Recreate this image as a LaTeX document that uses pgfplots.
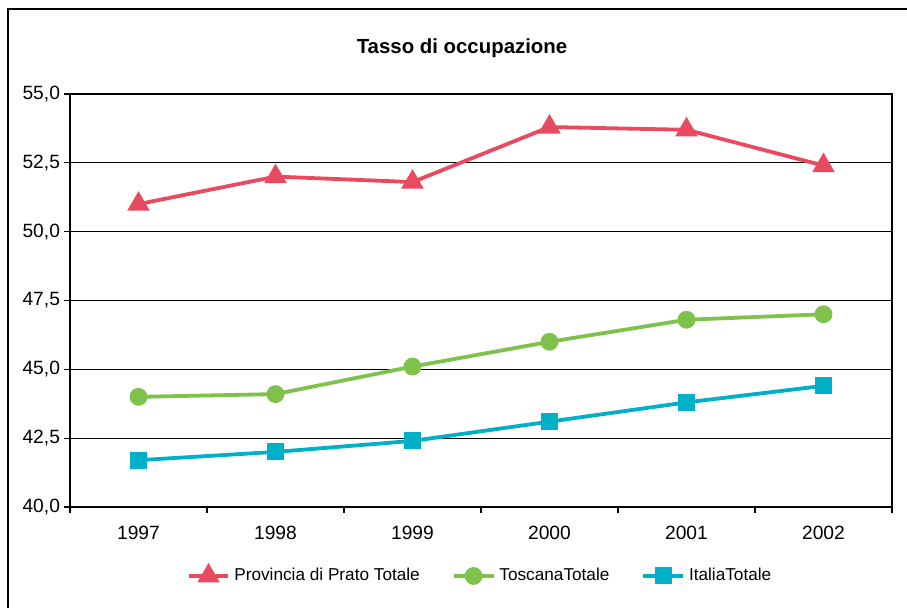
\documentclass[border=0pt]{standalone}
\usepackage{fontspec}
\setmainfont{Liberation Sans}
\usepackage{pgfplots}
\pgfplotsset{compat=1.18}
\definecolor{cred}{RGB}{232,74,95}
\definecolor{cgreen}{RGB}{126,194,75}
\definecolor{cteal}{RGB}{0,175,200}
\begin{document}
\begin{tikzpicture}
\useasboundingbox (0,0) rectangle (453.5pt,304pt);
\draw[line width=0.75pt] (4pt,-5pt) -- (4pt,299.5pt) -- (460pt,299.5pt);
\node[font=\bfseries\fontsize{10.2}{12}\selectfont] at (231pt,280pt) {Tasso di occupazione};
\begin{axis}[
  at={(35pt,50.5pt)}, anchor=south west,
  scale only axis, width=411pt, height=206.5pt,
  xmin=-0.5, xmax=5.5, ymin=40, ymax=55,
  xtick={-0.5,0.5,...,5.5}, xticklabels={},
  extra x ticks={0,1,2,3,4,5},
  extra x tick labels={1997,1998,1999,2000,2001,2002},
  extra x tick style={tick style={draw=none}},
  ytick={40,42.5,45,47.5,50,52.5,55},
  yticklabel style={xshift=1.5pt, /pgf/number format/.cd, fixed, fixed zerofill, precision=1, use comma},
  /pgf/number format/assume math mode=true,
  tick label style={font=\fontsize{9.6}{11}\selectfont, black},
  xticklabel style={yshift=-3pt},
  tick align=outside, tick pos=left, major tick length=3pt,
  tick style={black, line width=0.6pt},
  axis line style={black, line width=0.75pt},
  ymajorgrids, grid style={black, line width=0.5pt},
  legend style={at={(0.5,-0.167)}, anchor=center, draw=none, fill=none,
    legend columns=3, font=\fontsize{8.6}{10}\selectfont,
    /tikz/every even column/.append style={column sep=14pt}},
  legend image code/.code={\draw[mark repeat=2,mark phase=2] plot coordinates {(0cm,0cm)(0.35cm,0cm)(0.7cm,0cm)};},
]
\addplot[cred, line width=1.9pt, mark=triangle*, mark size=4.6pt, mark options={solid}]
  coordinates {(0,51.0) (1,52.0) (2,51.8) (3,53.8) (4,53.7) (5,52.4)};
\addlegendentry{Provincia di Prato Totale}
\addplot[cgreen, line width=1.9pt, mark=*, mark size=3.5pt, mark options={solid}]
  coordinates {(0,44.0) (1,44.1) (2,45.1) (3,46.0) (4,46.8) (5,47.0)};
\addlegendentry{ToscanaTotale}
\addplot[cteal, line width=1.9pt, mark=square*, mark size=3.3pt, mark options={solid}]
  coordinates {(0,41.7) (1,42.0) (2,42.4) (3,43.1) (4,43.8) (5,44.4)};
\addlegendentry{ItaliaTotale}
\end{axis}
\end{tikzpicture}
\end{document}
